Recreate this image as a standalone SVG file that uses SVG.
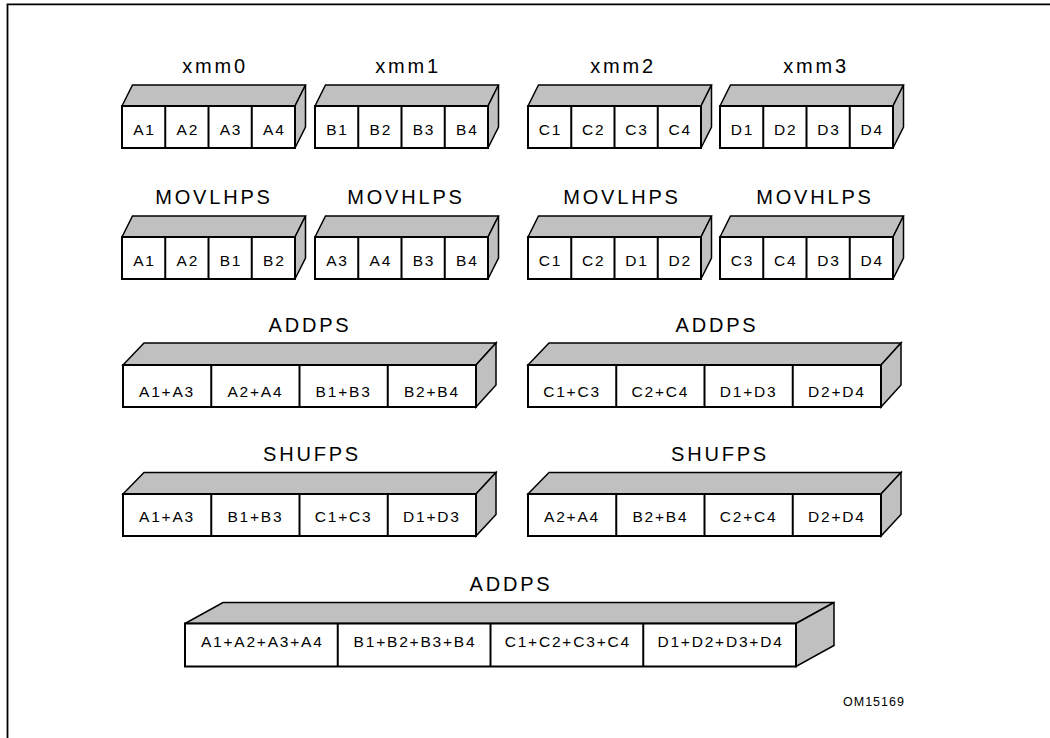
<svg xmlns="http://www.w3.org/2000/svg" width="1050" height="738" viewBox="0 0 1050 738">
<style>
.top,.side{fill:#c0c0c0;stroke:#000;stroke-width:1.5;stroke-linejoin:miter}
.front{fill:#fff;stroke:#000;stroke-width:2}
.div{stroke:#000;stroke-width:2}
.cell{font-family:"Liberation Sans",Arial,sans-serif;font-size:15.5px;letter-spacing:1.8px;text-anchor:middle;fill:#000}
.lbl{font-family:"Liberation Sans",Arial,sans-serif;font-size:20px;letter-spacing:2.8px;text-anchor:middle;fill:#000}
.id{font-family:"Liberation Sans",Arial,sans-serif;font-size:12.5px;letter-spacing:1px;fill:#000}
</style>
<rect width="1050" height="738" fill="#fff"/>
<path d="M7.5,738 V4.3 H1050" fill="none" stroke="#000" stroke-width="1.8"/>

<!-- Row 1 -->
<g id="xmm0">
<text class="lbl" x="215" y="73">xmm0</text>
<polygon class="top" points="122,106 132.5,85 305.5,85 295,106"/>
<polygon class="side" points="295,106 305.5,85 305.5,127 295,148"/>
<rect class="front" x="122" y="106" width="173" height="42"/>
<path class="div" d="M165.25,106V148M208.5,106V148M251.75,106V148"/>
<text class="cell" x="144.5" y="135">A1</text><text class="cell" x="187.8" y="135">A2</text><text class="cell" x="231" y="135">A3</text><text class="cell" x="274.3" y="135">A4</text>
</g>
<g id="xmm1">
<text class="lbl" x="408" y="73">xmm1</text>
<polygon class="top" points="315,106 325.5,85 498.5,85 488,106"/>
<polygon class="side" points="488,106 498.5,85 498.5,127 488,148"/>
<rect class="front" x="315" y="106" width="173" height="42"/>
<path class="div" d="M358.25,106V148M401.5,106V148M444.75,106V148"/>
<text class="cell" x="337.5" y="135">B1</text><text class="cell" x="380.8" y="135">B2</text><text class="cell" x="424" y="135">B3</text><text class="cell" x="467.3" y="135">B4</text>
</g>
<g id="xmm2">
<text class="lbl" x="623" y="73">xmm2</text>
<polygon class="top" points="528,106 538.5,85 711.5,85 701,106"/>
<polygon class="side" points="701,106 711.5,85 711.5,127 701,148"/>
<rect class="front" x="528" y="106" width="173" height="42"/>
<path class="div" d="M571.25,106V148M614.5,106V148M657.75,106V148"/>
<text class="cell" x="550.5" y="135">C1</text><text class="cell" x="593.8" y="135">C2</text><text class="cell" x="637" y="135">C3</text><text class="cell" x="680.3" y="135">C4</text>
</g>
<g id="xmm3">
<text class="lbl" x="816" y="73">xmm3</text>
<polygon class="top" points="720,106 730.5,85 903.5,85 893,106"/>
<polygon class="side" points="893,106 903.5,85 903.5,127 893,148"/>
<rect class="front" x="720" y="106" width="173" height="42"/>
<path class="div" d="M763.25,106V148M806.5,106V148M849.75,106V148"/>
<text class="cell" x="742.5" y="135">D1</text><text class="cell" x="785.8" y="135">D2</text><text class="cell" x="829" y="135">D3</text><text class="cell" x="872.3" y="135">D4</text>
</g>

<!-- Row 2 -->
<g id="movlhps1">
<text class="lbl" x="214" y="204">MOVLHPS</text>
<polygon class="top" points="122,237 132.5,216 305.5,216 295,237"/>
<polygon class="side" points="295,237 305.5,216 305.5,258 295,279"/>
<rect class="front" x="122" y="237" width="173" height="42"/>
<path class="div" d="M165.25,237V279M208.5,237V279M251.75,237V279"/>
<text class="cell" x="144.5" y="265.5">A1</text><text class="cell" x="187.8" y="265.5">A2</text><text class="cell" x="231" y="265.5">B1</text><text class="cell" x="274.3" y="265.5">B2</text>
</g>
<g id="movhlps1">
<text class="lbl" x="406" y="204">MOVHLPS</text>
<polygon class="top" points="315,237 325.5,216 498.5,216 488,237"/>
<polygon class="side" points="488,237 498.5,216 498.5,258 488,279"/>
<rect class="front" x="315" y="237" width="173" height="42"/>
<path class="div" d="M358.25,237V279M401.5,237V279M444.75,237V279"/>
<text class="cell" x="337.5" y="265.5">A3</text><text class="cell" x="380.8" y="265.5">A4</text><text class="cell" x="424" y="265.5">B3</text><text class="cell" x="467.3" y="265.5">B4</text>
</g>
<g id="movlhps2">
<text class="lbl" x="622" y="204">MOVLHPS</text>
<polygon class="top" points="528,237 538.5,216 711.5,216 701,237"/>
<polygon class="side" points="701,237 711.5,216 711.5,258 701,279"/>
<rect class="front" x="528" y="237" width="173" height="42"/>
<path class="div" d="M571.25,237V279M614.5,237V279M657.75,237V279"/>
<text class="cell" x="550.5" y="265.5">C1</text><text class="cell" x="593.8" y="265.5">C2</text><text class="cell" x="637" y="265.5">D1</text><text class="cell" x="680.3" y="265.5">D2</text>
</g>
<g id="movhlps2">
<text class="lbl" x="815" y="204">MOVHLPS</text>
<polygon class="top" points="720,237 730.5,216 903.5,216 893,237"/>
<polygon class="side" points="893,237 903.5,216 903.5,258 893,279"/>
<rect class="front" x="720" y="237" width="173" height="42"/>
<path class="div" d="M763.25,237V279M806.5,237V279M849.75,237V279"/>
<text class="cell" x="742.5" y="265.5">C3</text><text class="cell" x="785.8" y="265.5">C4</text><text class="cell" x="829" y="265.5">D3</text><text class="cell" x="872.3" y="265.5">D4</text>
</g>

<!-- Row 3 -->
<g id="addps1">
<text class="lbl" x="310" y="332">ADDPS</text>
<polygon class="top" points="123,365 144,343 496,343 476,365"/>
<polygon class="side" points="476,365 496,343 496,385 476,407"/>
<rect class="front" x="123" y="365" width="353" height="42"/>
<path class="div" d="M211.25,365V407M299.5,365V407M387.75,365V407"/>
<text class="cell" x="167" y="396.5">A1+A3</text><text class="cell" x="255.4" y="396.5">A2+A4</text><text class="cell" x="343.6" y="396.5">B1+B3</text><text class="cell" x="431.9" y="396.5">B2+B4</text>
</g>
<g id="addps2">
<text class="lbl" x="717" y="332">ADDPS</text>
<polygon class="top" points="528,365 549,343 901,343 881,365"/>
<polygon class="side" points="881,365 901,343 901,385 881,407"/>
<rect class="front" x="528" y="365" width="353" height="42"/>
<path class="div" d="M616.25,365V407M704.5,365V407M792.75,365V407"/>
<text class="cell" x="572" y="396.5">C1+C3</text><text class="cell" x="660.4" y="396.5">C2+C4</text><text class="cell" x="748.6" y="396.5">D1+D3</text><text class="cell" x="836.9" y="396.5">D2+D4</text>
</g>

<!-- Row 4 -->
<g id="shufps1">
<text class="lbl" x="312" y="461">SHUFPS</text>
<polygon class="top" points="123,494 144,472.5 496,472.5 476,494"/>
<polygon class="side" points="476,494 496,472.5 496,514.5 476,536"/>
<rect class="front" x="123" y="494" width="353" height="42"/>
<path class="div" d="M211.25,494V536M299.5,494V536M387.75,494V536"/>
<text class="cell" x="167" y="521.5">A1+A3</text><text class="cell" x="255.4" y="521.5">B1+B3</text><text class="cell" x="343.6" y="521.5">C1+C3</text><text class="cell" x="431.9" y="521.5">D1+D3</text>
</g>
<g id="shufps2">
<text class="lbl" x="720" y="461">SHUFPS</text>
<polygon class="top" points="528,494 549,472.5 901,472.5 881,494"/>
<polygon class="side" points="881,494 901,472.5 901,514.5 881,536"/>
<rect class="front" x="528" y="494" width="353" height="42"/>
<path class="div" d="M616.25,494V536M704.5,494V536M792.75,494V536"/>
<text class="cell" x="572" y="521.5">A2+A4</text><text class="cell" x="660.4" y="521.5">B2+B4</text><text class="cell" x="748.6" y="521.5">C2+C4</text><text class="cell" x="836.9" y="521.5">D2+D4</text>
</g>

<!-- Row 5 -->
<g id="addps3">
<text class="lbl" x="511" y="591">ADDPS</text>
<polygon class="top" points="185,623.5 223,602.5 834,602.5 796,623.5"/>
<polygon class="side" points="796,623.5 834,602.5 834,645.5 796,666.5"/>
<rect class="front" x="185" y="623.5" width="611" height="43"/>
<path class="div" d="M337.75,623.5V666.5M490.5,623.5V666.5M643.25,623.5V666.5"/>
<text class="cell" x="262.3" y="646.5">A1+A2+A3+A4</text><text class="cell" x="415" y="646.5">B1+B2+B3+B4</text><text class="cell" x="567.8" y="646.5">C1+C2+C3+C4</text><text class="cell" x="720.5" y="646.5">D1+D2+D3+D4</text>
</g>

<text class="id" x="843" y="706">OM15169</text>
</svg>
